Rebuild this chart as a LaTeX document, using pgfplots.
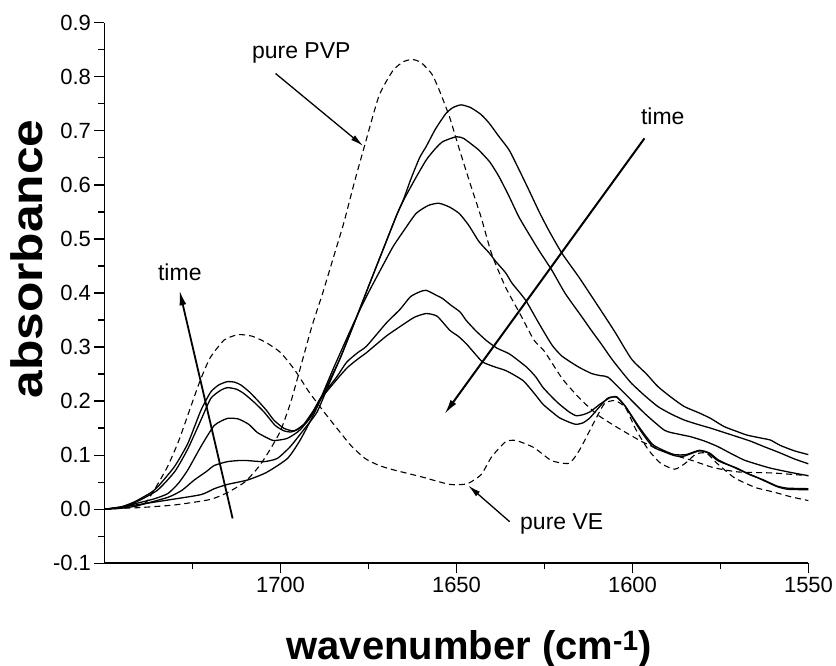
\documentclass[border=0pt]{standalone}
\usepackage{fontspec}
\setmainfont{Liberation Sans}
\usepackage{pgfplots}
\pgfplotsset{compat=1.18}
\usetikzlibrary{arrows.meta}

\pgfplotstableread{
x y
1750 0
1745 0.002
1740 0.003
1730 0.008
1720 0.018
1715 0.031
1710 0.051
1706 0.08
1703 0.11
1700 0.145
1697 0.2
1694 0.27
1691 0.34
1688 0.40
1685 0.465
1682 0.53
1679 0.605
1676 0.675
1672 0.765
1668 0.812
1665 0.828
1662.5 0.832
1660 0.826
1657 0.805
1655 0.777
1652 0.726
1649 0.662
1646 0.6
1643 0.54
1640 0.472
1636 0.41
1632 0.362
1628 0.313
1625 0.292
1620 0.242
1615 0.205
1610 0.175
1604 0.15
1597 0.124
1590 0.104
1583 0.09
1577 0.077
1570 0.069
1560 0.067
1550 0.062
}\pvp

\pgfplotstableread{
x y
1750 0
1745 0.002
1740 0.007
1738 0.014
1735 0.045
1732 0.08
1729 0.125
1726 0.18
1723 0.235
1720 0.28
1716 0.313
1712 0.323
1708 0.32
1704 0.308
1700 0.29
1696 0.258
1692 0.218
1688 0.183
1684 0.15
1680 0.118
1676 0.094
1672 0.081
1668 0.073
1660 0.06
1652 0.046
1647 0.047
1643 0.064
1640 0.097
1636 0.125
1633 0.127
1628 0.114
1623 0.09
1618 0.085
1615 0.11
1611 0.16
1608 0.195
1605 0.201
1602 0.188
1599 0.147
1595.5 0.11
1592 0.085
1588 0.074
1585 0.085
1582 0.102
1579 0.104
1576 0.085
1571 0.058
1565 0.04
1560 0.032
1555 0.023
1550 0.016
}\ve

\pgfplotstableread{
x y
1750 0
1745 0.004
1741 0.008
1732 0.017
1722.6 0.027
1718.8 0.038
1715 0.046
1709.4 0.054
1704 0.068
1698 0.094
1694.4 0.128
1690.6 0.175
1686.8 0.228
1683 0.28
1679 0.345
1675 0.412
1671 0.478
1667 0.544
1665 0.574
1663 0.61
1660.5 0.65
1658.6 0.671
1656 0.703
1653 0.732
1651 0.743
1648.7 0.748
1646 0.743
1643 0.73
1640.7 0.714
1638 0.69
1635 0.664
1632 0.625
1629.4 0.59
1626.5 0.55
1623.8 0.516
1620 0.473
1615.3 0.43
1609.7 0.375
1605 0.328
1600.3 0.278
1596 0.25
1592.8 0.227
1589 0.207
1585.3 0.19
1581 0.178
1577.8 0.168
1574 0.153
1570 0.143
1567.4 0.137
1563 0.131
1560.8 0.128
1558 0.118
1554 0.108
1550 0.101
}\sa

\pgfplotstableread{
x y
1750 0
1745 0.002
1741 0.006
1732 0.022
1728 0.035
1724.5 0.054
1721 0.07
1718.8 0.081
1715.1 0.088
1712 0.09
1709.4 0.09
1704.7 0.088
1700.9 0.094
1697.2 0.116
1693.4 0.147
1689.6 0.18
1686 0.235
1683 0.28
1679 0.345
1675 0.412
1671 0.478
1667 0.544
1665 0.572
1662 0.608
1658.6 0.646
1656 0.667
1653.9 0.68
1650.1 0.689
1648 0.686
1645.5 0.674
1643.6 0.664
1640.5 0.642
1637.9 0.615
1635 0.578
1632.3 0.541
1629.5 0.51
1626.6 0.479
1622.9 0.442
1619.1 0.399
1614.4 0.356
1611.6 0.33
1608.8 0.305
1605.9 0.278
1603 0.254
1600.3 0.233
1596.5 0.21
1592.8 0.19
1589 0.176
1585.3 0.165
1581.5 0.157
1577.8 0.15
1574 0.142
1570.2 0.134
1566.5 0.126
1562.7 0.116
1558 0.104
1554 0.093
1550 0.084
}\sb

\pgfplotstableread{
x y
1750 0
1745 0.003
1741.4 0.01
1736 0.019
1732 0.029
1729 0.048
1726.3 0.073
1722.6 0.116
1718.8 0.155
1715.1 0.168
1712 0.167
1709 0.157
1706.6 0.142
1703.5 0.131
1701.9 0.127
1698.1 0.131
1694.4 0.147
1690 0.185
1685 0.26
1680 0.333
1677 0.375
1674.6 0.406
1671 0.45
1668 0.486
1665 0.515
1661.5 0.547
1658 0.562
1655 0.566
1652 0.559
1649.2 0.547
1646.5 0.525
1643.6 0.495
1640.7 0.474
1638.8 0.458
1636 0.437
1634.2 0.418
1630.4 0.387
1626.6 0.344
1622.9 0.304
1620 0.283
1615.3 0.263
1611.6 0.251
1609 0.247
1606.9 0.244
1602.2 0.214
1596.5 0.177
1590.9 0.146
1587 0.139
1583.4 0.134
1579.5 0.126
1575.8 0.116
1572 0.103
1568.3 0.091
1564.5 0.083
1560.8 0.076
1555 0.068
1550 0.062
}\sc

\pgfplotstableread{
x y
1750 0
1745 0.004
1741.4 0.012
1735 0.035
1730 0.07
1726.3 0.112
1722.6 0.165
1719.8 0.205
1717 0.22
1715.1 0.225
1712.5 0.222
1710.4 0.214
1707.5 0.198
1704.7 0.18
1701.5 0.155
1699 0.145
1697 0.143
1695 0.148
1692 0.165
1688.7 0.205
1684 0.245
1681.2 0.272
1678 0.29
1675.5 0.302
1670 0.344
1666 0.37
1663.1 0.393
1660.5 0.402
1658.6 0.405
1655.5 0.395
1654 0.39
1651.5 0.377
1649 0.365
1647.2 0.349
1644.5 0.33
1641.5 0.312
1638.5 0.298
1634.9 0.287
1630.1 0.263
1627.5 0.245
1625.4 0.225
1622.5 0.205
1620.7 0.194
1618 0.18
1616 0.173
1614 0.175
1612.1 0.18
1609.3 0.194
1606.5 0.206
1604.5 0.208
1602 0.19
1598 0.151
1594.3 0.12
1590.9 0.108
1588 0.101
1584.8 0.101
1581 0.109
1578.1 0.104
1575.8 0.092
1573.4 0.084
1570 0.075
1566.7 0.064
1562.7 0.054
1559 0.043
1556 0.039
1550 0.038
}\sd

\pgfplotstableread{
x y
1750 0
1745 0.005
1741.4 0.014
1737 0.03
1734.8 0.042
1730.1 0.079
1726.3 0.122
1722.6 0.183
1719.8 0.217
1717.5 0.23
1715.1 0.236
1713 0.235
1711.3 0.23
1709 0.218
1706.6 0.202
1704 0.183
1701.9 0.165
1699.1 0.15
1696.2 0.145
1693.4 0.157
1690.6 0.183
1688.7 0.203
1684 0.24
1681 0.262
1678 0.278
1675.5 0.29
1670 0.32
1666 0.338
1662 0.355
1658.6 0.362
1655.5 0.357
1651.9 0.331
1649.5 0.32
1647.2 0.306
1644.8 0.288
1642.5 0.272
1639 0.263
1635.8 0.256
1631.1 0.238
1628 0.215
1625.4 0.194
1622.5 0.178
1620.7 0.169
1618 0.161
1616 0.157
1614 0.16
1612.1 0.169
1609.3 0.19
1606.9 0.206
1604.5 0.207
1602 0.19
1598 0.148
1594.3 0.116
1590.9 0.106
1588 0.099
1585.5 0.098
1581 0.108
1578.5 0.104
1575.8 0.09
1572 0.08
1568.3 0.069
1565 0.06
1562.7 0.053
1559 0.042
1556 0.037
1550 0.036
}\se

\begin{document}
\begin{tikzpicture}
\useasboundingbox (-104.5pt,-102.7pt) rectangle (731.5pt,563.3pt);
\begin{axis}[
  at={(0,0)}, anchor=south west,
  scale only axis, width=704pt, height=540.6pt,
  xmin=1550, xmax=1750, ymin=-0.1, ymax=0.9,
  x dir=reverse,
  axis x line=bottom, axis y line=left,
  axis line style={-, line width=1.6pt},
  xtick={1550,1600,1650,1700},
  xticklabels={1550,1600,1650,1700},
  minor xtick={1575,1625,1675,1725},
  ytick={-0.1,0,0.1,0.2,0.3,0.4,0.5,0.6,0.7,0.8,0.9},
  yticklabels={-0.1,0.0,0.1,0.2,0.3,0.4,0.5,0.6,0.7,0.8,0.9},
  minor ytick={-0.05,0.05,0.15,0.25,0.35,0.45,0.55,0.65,0.75,0.85},
  tick align=outside,
  major tick length=10pt, minor tick length=6pt,
  every tick/.style={black, line width=1.3pt},
  xticklabel style={font=\fontsize{22}{26}\selectfont},
  yticklabel style={font=\fontsize{22}{26}\selectfont},
  xlabel={\fontsize{40}{44}\selectfont\bfseries wavenumber (cm\textsuperscript{-1})},
  ylabel={\fontsize{44}{48}\selectfont\bfseries\scalebox{1.13}[1]{absorbance}},
  x label style={at={(axis description cs:0.518,-0.158)}, anchor=center},
  y label style={at={(axis description cs:-0.11,0.563)}, anchor=center},
]
\addplot[black, line width=1.1pt, dash pattern=on 6pt off 4pt, smooth, tension=0.35] table {\pvp};
\addplot[black, line width=1.1pt, dash pattern=on 6pt off 4pt, smooth, tension=0.35] table {\ve};
\addplot[black, line width=1.3pt, smooth, tension=0.35] table {\sa};
\addplot[black, line width=1.3pt, smooth, tension=0.35] table {\sb};
\addplot[black, line width=1.3pt, smooth, tension=0.35] table {\sc};
\addplot[black, line width=1.3pt, smooth, tension=0.35] table {\sd};
\addplot[black, line width=1.3pt, smooth, tension=0.35] table {\se};

\draw[line width=1.8pt, -{Latex[length=15pt,width=7pt]}] (axis cs:1713.6,-0.017) -- (axis cs:1728.7,0.405);
\draw[line width=2pt, -{Latex[length=15pt,width=7pt]}] (axis cs:1596.6,0.686) -- (axis cs:1653.4,0.176);
\draw[line width=1.3pt, -{Latex[length=13pt,width=6pt]}] (axis cs:1701.4,0.806) -- (axis cs:1676.5,0.672);
\draw[line width=1.3pt, -{Latex[length=13pt,width=6pt]}] (axis cs:1634.9,-0.023) -- (axis cs:1646.7,0.044);

\node[font=\fontsize{23}{27}\selectfont] at (axis cs:1694.1,0.844) {pure PVP};
\node[font=\fontsize{23}{27}\selectfont] at (axis cs:1728.6,0.439) {time};
\node[font=\fontsize{23}{27}\selectfont] at (axis cs:1591.4,0.726) {time};
\node[font=\fontsize{23}{27}\selectfont] at (axis cs:1620.1,-0.027) {pure VE};
\end{axis}
\end{tikzpicture}
\end{document}
